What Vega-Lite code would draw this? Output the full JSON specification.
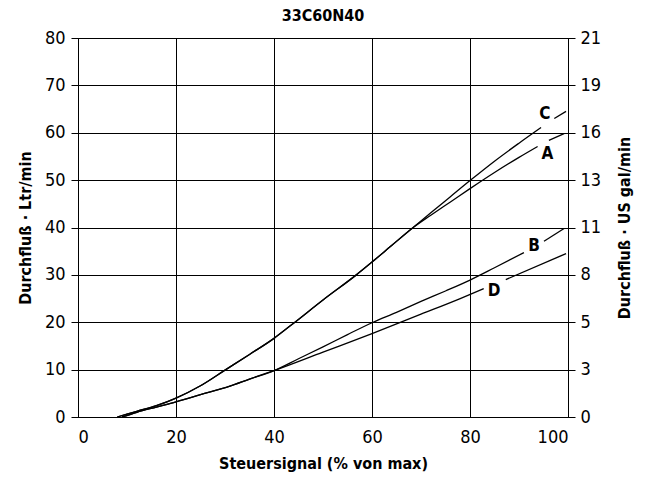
{
  "$schema": "https://vega.github.io/schema/vega-lite/v6.json",
  "autosize": {"type": "none"},
  "width": 490,
  "height": 379,
  "padding": {"left": 78, "top": 38, "right": 82, "bottom": 71},
  "title": {"text": "33C60N40", "fontSize": 16, "fontWeight": "bold", "offset": 5, "font": "DejaVu Sans Condensed", "color": "black"},
  "config": {
    "font": "DejaVu Sans Condensed",
    "view": {"stroke": "black", "strokeWidth": 1},
    "axis": {
      "domainColor": "black", "tickColor": "black", "gridColor": "black", "gridOpacity": 1, "gridWidth": 1,
      "labelColor": "black", "titleColor": "black", "labelFontSize": 18, "titleFontSize": 16, "titleFontWeight": "bold",
      "labelFont": "DejaVu Sans Condensed", "titleFont": "DejaVu Sans Condensed"
    }
  },
  "datasets": {
    "curves": [
      {"x": 8, "y": 0, "s": "C", "seg": 1}, {"x": 12, "y": 1.2, "s": "C", "seg": 1}, {"x": 16, "y": 2.4, "s": "C", "seg": 1}, {"x": 20, "y": 4.0, "s": "C", "seg": 1}, {"x": 25, "y": 6.6, "s": "C", "seg": 1}, {"x": 30, "y": 9.9, "s": "C", "seg": 1}, {"x": 35, "y": 13.2, "s": "C", "seg": 1}, {"x": 40, "y": 16.6, "s": "C", "seg": 1}, {"x": 44, "y": 19.8, "s": "C", "seg": 1}, {"x": 50, "y": 24.7, "s": "C", "seg": 1}, {"x": 56.8, "y": 30.0, "s": "C", "seg": 1}, {"x": 60, "y": 32.7, "s": "C", "seg": 1}, {"x": 64, "y": 36.2, "s": "C", "seg": 1}, {"x": 68.4, "y": 40.0, "s": "C", "seg": 1}, {"x": 72, "y": 43.1, "s": "C", "seg": 1}, {"x": 76, "y": 46.5, "s": "C", "seg": 1}, {"x": 80, "y": 49.9, "s": "C", "seg": 1}, {"x": 85, "y": 54.0, "s": "C", "seg": 1}, {"x": 90, "y": 57.8, "s": "C", "seg": 1}, {"x": 94.5, "y": 61.1, "s": "C", "seg": 1},
      {"x": 97.2, "y": 63.0, "s": "C", "seg": 2}, {"x": 99.6, "y": 64.5, "s": "C", "seg": 2},
      {"x": 8, "y": 0, "s": "A", "seg": 1}, {"x": 12, "y": 1.2, "s": "A", "seg": 1}, {"x": 16, "y": 2.4, "s": "A", "seg": 1}, {"x": 20, "y": 4.0, "s": "A", "seg": 1}, {"x": 25, "y": 6.6, "s": "A", "seg": 1}, {"x": 30, "y": 9.9, "s": "A", "seg": 1}, {"x": 35, "y": 13.2, "s": "A", "seg": 1}, {"x": 40, "y": 16.6, "s": "A", "seg": 1}, {"x": 44, "y": 19.8, "s": "A", "seg": 1}, {"x": 50, "y": 24.7, "s": "A", "seg": 1}, {"x": 56.8, "y": 30.0, "s": "A", "seg": 1}, {"x": 60, "y": 32.7, "s": "A", "seg": 1}, {"x": 64, "y": 36.2, "s": "A", "seg": 1}, {"x": 68.4, "y": 40.0, "s": "A", "seg": 1}, {"x": 72, "y": 42.6, "s": "A", "seg": 1}, {"x": 76, "y": 45.4, "s": "A", "seg": 1}, {"x": 80, "y": 48.2, "s": "A", "seg": 1}, {"x": 85, "y": 51.6, "s": "A", "seg": 1}, {"x": 90, "y": 54.8, "s": "A", "seg": 1}, {"x": 93.8, "y": 57.1, "s": "A", "seg": 1},
      {"x": 96.1, "y": 58.4, "s": "A", "seg": 2}, {"x": 99.2, "y": 59.8, "s": "A", "seg": 2},
      {"x": 9, "y": 0, "s": "B", "seg": 1}, {"x": 12, "y": 1.0, "s": "B", "seg": 1}, {"x": 16, "y": 2.1, "s": "B", "seg": 1}, {"x": 20, "y": 3.2, "s": "B", "seg": 1}, {"x": 25, "y": 4.7, "s": "B", "seg": 1}, {"x": 31, "y": 6.5, "s": "B", "seg": 1}, {"x": 35, "y": 8.0, "s": "B", "seg": 1}, {"x": 40, "y": 9.8, "s": "B", "seg": 1}, {"x": 45, "y": 12.3, "s": "B", "seg": 1}, {"x": 50, "y": 14.8, "s": "B", "seg": 1}, {"x": 55, "y": 17.4, "s": "B", "seg": 1}, {"x": 60, "y": 19.9, "s": "B", "seg": 1}, {"x": 65, "y": 22.1, "s": "B", "seg": 1}, {"x": 70, "y": 24.4, "s": "B", "seg": 1}, {"x": 75, "y": 26.6, "s": "B", "seg": 1}, {"x": 80, "y": 28.9, "s": "B", "seg": 1}, {"x": 85, "y": 31.5, "s": "B", "seg": 1}, {"x": 91, "y": 34.7, "s": "B", "seg": 1},
      {"x": 95.1, "y": 37.1, "s": "B", "seg": 2}, {"x": 99.2, "y": 39.8, "s": "B", "seg": 2},
      {"x": 9, "y": 0, "s": "D", "seg": 1}, {"x": 12, "y": 1.0, "s": "D", "seg": 1}, {"x": 16, "y": 2.1, "s": "D", "seg": 1}, {"x": 20, "y": 3.2, "s": "D", "seg": 1}, {"x": 25, "y": 4.7, "s": "D", "seg": 1}, {"x": 31, "y": 6.5, "s": "D", "seg": 1}, {"x": 35, "y": 8.0, "s": "D", "seg": 1}, {"x": 40, "y": 9.8, "s": "D", "seg": 1}, {"x": 50, "y": 13.7, "s": "D", "seg": 1}, {"x": 60, "y": 17.6, "s": "D", "seg": 1}, {"x": 70, "y": 21.7, "s": "D", "seg": 1}, {"x": 78, "y": 25.0, "s": "D", "seg": 1}, {"x": 82.8, "y": 27.1, "s": "D", "seg": 1},
      {"x": 87.3, "y": 29.0, "s": "D", "seg": 2}, {"x": 99.6, "y": 34.5, "s": "D", "seg": 2}
    ],
    "labels": [
      {"x": 95.3, "y": 64.0, "label": "C"},
      {"x": 95.8, "y": 55.5, "label": "A"},
      {"x": 93.1, "y": 36.0, "label": "B"},
      {"x": 84.9, "y": 26.7, "label": "D"}
    ]
  },
  "layer": [
    {
      "data": {"name": "curves"},
      "mark": {"type": "line", "color": "black", "strokeWidth": 1.3, "interpolate": "monotone"},
      "encoding": {
        "x": {"field": "x", "type": "quantitative", "scale": {"domain": [0, 100], "nice": false},
              "axis": {"values": [0, 20, 40, 60, 80, 100], "ticks": false, "domain": false, "labelPadding": 11, "title": "Steuersignal (% von max)", "titlePadding": 9}},
        "y": {"field": "y", "type": "quantitative", "scale": {"domain": [0, 80], "nice": false},
              "axis": {"values": [0, 10, 20, 30, 40, 50, 60, 70, 80], "tickSize": 7, "labelPadding": 6, "title": "Durchfluß · Ltr/min", "titlePadding": 11}},
        "detail": [{"field": "s"}, {"field": "seg"}]
      }
    },
    {
      "data": {"name": "labels"},
      "mark": {"type": "text", "fontSize": 17, "fontWeight": "bold", "color": "black"},
      "encoding": {
        "x": {"field": "x", "type": "quantitative"},
        "y": {"field": "y", "type": "quantitative",
              "axis": {"orient": "right", "values": [0, 10, 20, 30, 40, 50, 60, 70, 80], "grid": false, "tickSize": 7, "labelPadding": 5,
                       "labelExpr": "['0','3','5','8','11','13','16','19','21'][round(datum.value/10)]",
                       "title": "Durchfluß · US gal/min", "titleAngle": 270, "titlePadding": 32}},
        "text": {"field": "label"}
      }
    }
  ],
  "resolve": {"axis": {"y": "independent"}}
}
